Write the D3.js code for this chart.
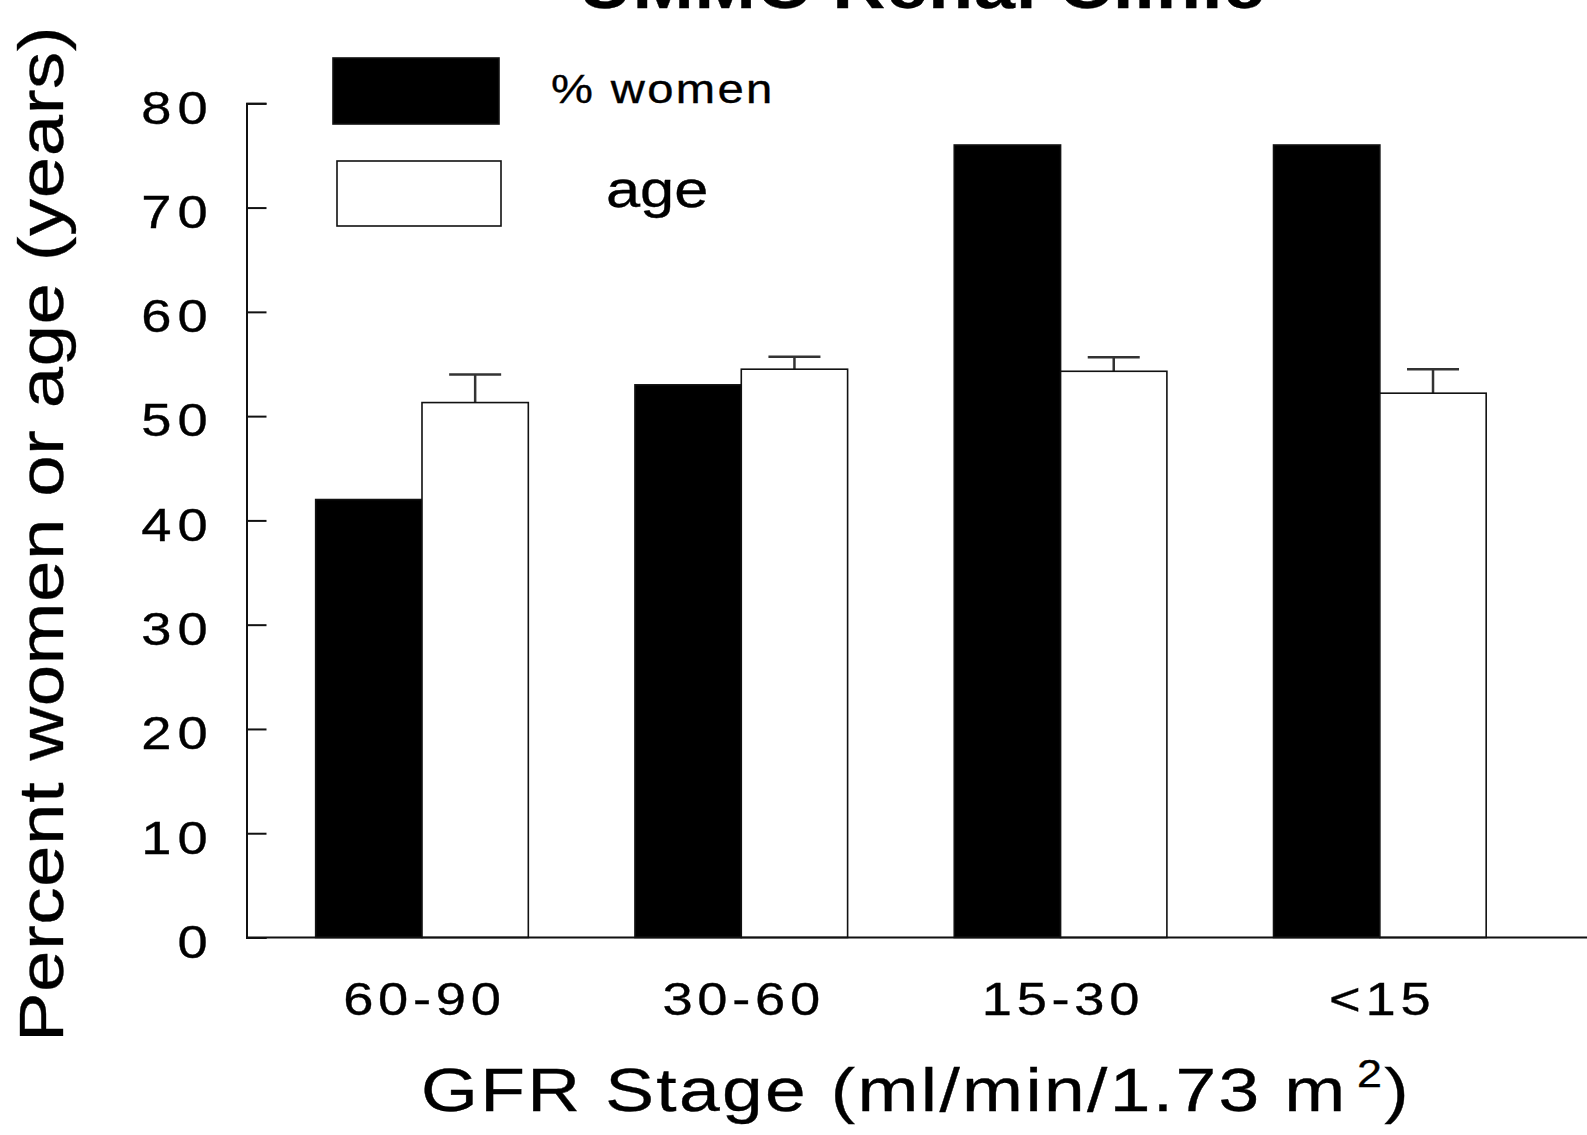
<!DOCTYPE html>
<html lang="en">
<head>
  <meta charset="UTF-8">
  <title>GFR Stage</title>
  <style>
    body { margin: 0; background: #fff; }
    svg { display: block; font-family: "Liberation Sans", Arial, sans-serif; }
    text { stroke: #000; stroke-width: 0.35px; }
  </style>
</head>
<body>
  <svg id="chart" width="1587" height="1135"></svg>

  <script src="https://cdn.jsdelivr.net/npm/d3@7/dist/d3.min.js"></script>
  <script>
    // values
    var stages = ["60-90", "30-60", "15-30", "<15"];
    var series = ["% women", "age"];
    var women = [42, 53, 76, 76];
    var age = [51.3, 54.5, 54.3, 52.2];
    var ageSE = [2.7, 1.2, 1.35, 2.3];
    var yTicks = [0, 10, 20, 30, 40, 50, 60, 70, 80];

    var svg = d3.select("#chart"),
      axisX = 246.5,
      SX = 1.18; // the original lettering is a bit wider than Arial

    // widen text horizontally around its own anchor point
    function stretch(sel, sx) {
      sel.each(function () {
        var t = d3.select(this), x = +t.attr("x") || 0;
        t.attr("x", x / sx).attr("transform", "scale(" + sx + ",1)");
      });
    }

    var x = d3.scaleBand()
      .domain(stages)
      .range([262.35, 1539.5])
      .paddingInner(0.334)
      .paddingOuter(0.167);

    var xs = d3.scaleBand()
      .domain(series)
      .range([0, x.bandwidth()]);

    var y = d3.scaleLinear()
      .domain([0, 80])
      .range([937.5, 103.3]);

    var fill = d3.scaleOrdinal().domain(series).range(["#000", "#fff"]);

    // title, mostly cut off at the top edge
    svg.append("text")
      .attr("x", 922)
      .attr("y", 8)
      .attr("text-anchor", "middle")
      .style("font-size", "62px")
      .style("font-weight", "bold")
      .style("letter-spacing", "1px")
      .text("UMMC Renal Clinic")
      .call(stretch, SX);

    // bars
    var rows = stages.map(function (s, i) {
      return {stage: s, vals: [{k: series[0], v: women[i]}, {k: series[1], v: age[i], se: ageSE[i]}]};
    });

    var g = svg.selectAll("g.stage")
      .data(rows)
      .enter().append("g")
      .attr("class", "stage")
      .attr("transform", function (d) { return "translate(" + x(d.stage) + ",0)"; });

    // error bars first so the bar outline sits on top
    g.each(function (d) {
      var a = d.vals[1], cx = xs(a.k) + xs.bandwidth() / 2;
      var eg = d3.select(this);
      eg.append("line")
        .attr("x1", cx).attr("x2", cx)
        .attr("y1", y(a.v)).attr("y2", y(a.v + a.se))
        .attr("stroke", "#333").attr("stroke-width", 2.5);
      eg.append("line")
        .attr("x1", cx - 26).attr("x2", cx + 26)
        .attr("y1", y(a.v + a.se)).attr("y2", y(a.v + a.se))
        .attr("stroke", "#333").attr("stroke-width", 2.5);
    });

    g.selectAll("rect")
      .data(function (d) { return d.vals; })
      .enter().append("rect")
      .attr("x", function (d) { return xs(d.k); })
      .attr("width", xs.bandwidth())
      .attr("y", function (d) { return y(d.v); })
      .attr("height", function (d) { return y(0) - y(d.v); })
      .attr("fill", function (d) { return fill(d.k); })
      .attr("stroke", "#111")
      .attr("stroke-width", 1.6);

    // y axis
    var yAxis = svg.append("g")
      .attr("transform", "translate(" + axisX + ",0)")
      .call(d3.axisLeft(y).tickValues(yTicks).tickSize(-20).tickPadding(33));
    yAxis.select(".domain").attr("stroke", "#111").attr("stroke-width", 2);
    yAxis.selectAll(".tick line").attr("stroke", "#111").attr("stroke-width", 2);
    yAxis.selectAll(".tick text")
      .attr("dy", "0.43em")
      .attr("fill", "#000")
      .style("font-size", "46px")
      .style("letter-spacing", "5px")
      .call(stretch, SX);

    // x axis
    var xAxis = svg.append("g")
      .attr("transform", "translate(0," + y(0) + ")")
      .call(d3.axisBottom(x).tickSize(0).tickPadding(45));
    xAxis.select(".domain").remove();
    xAxis.selectAll(".tick text")
      .attr("fill", "#000")
      .attr("dx", "2px")
      .style("font-size", "46px")
      .style("letter-spacing", "4px")
      .call(stretch, SX);
    svg.append("line")
      .attr("x1", axisX).attr("x2", 1587)
      .attr("y1", y(0)).attr("y2", y(0))
      .attr("stroke", "#111").attr("stroke-width", 2);

    // axis titles
    var xt = svg.append("text")
      .attr("x", 916)
      .attr("y", 1111)
      .attr("text-anchor", "middle")
      .style("font-size", "62px")
      .style("letter-spacing", "2px");
    xt.append("tspan").text("GFR Stage (ml/min/1.73 m");
    xt.append("tspan").attr("dx", "8px").attr("dy", "-24px").style("font-size", "38px").text("2");
    xt.append("tspan").attr("dy", "24px").text(")");
    xt.call(stretch, SX);

    svg.append("text")
      .attr("transform", "translate(63,534) rotate(-90) scale(" + SX + ",1)")
      .attr("text-anchor", "middle")
      .style("font-size", "63px")
      .style("letter-spacing", "0.5px")
      .text("Percent women or age (years)");

    // legend
    var legend = [
      {k: series[0], rx: 333, ry: 58, rw: 166, rh: 66, tx: 551, ty: 103, fs: 40, ls: 2},
      {k: series[1], rx: 337, ry: 161, rw: 164, rh: 65, tx: 606, ty: 207, fs: 52, ls: 0}
    ];
    var lg = svg.selectAll("g.legend")
      .data(legend)
      .enter().append("g")
      .attr("class", "legend");
    lg.append("rect")
      .attr("x", function (d) { return d.rx; })
      .attr("y", function (d) { return d.ry; })
      .attr("width", function (d) { return d.rw; })
      .attr("height", function (d) { return d.rh; })
      .attr("fill", function (d) { return fill(d.k); })
      .attr("stroke", "#111")
      .attr("stroke-width", 1.6);
    lg.append("text")
      .attr("x", function (d) { return d.tx; })
      .attr("y", function (d) { return d.ty; })
      .style("font-size", function (d) { return d.fs + "px"; })
      .style("letter-spacing", function (d) { return d.ls + "px"; })
      .text(function (d) { return d.k; })
      .call(stretch, SX);
  </script>
</body>
</html>
